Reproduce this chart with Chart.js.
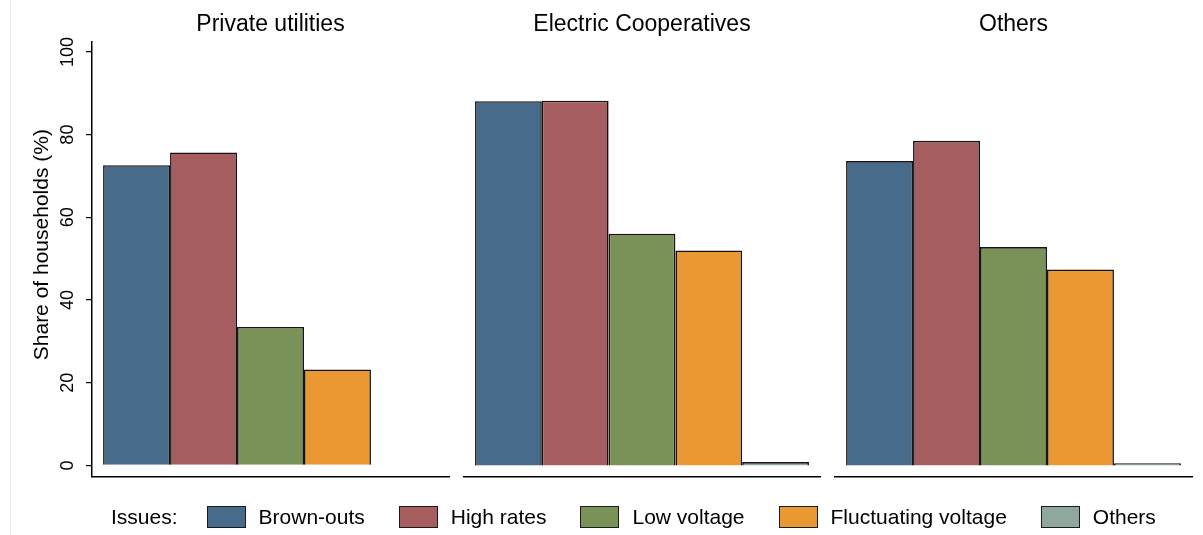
<!DOCTYPE html>
<html>
<head>
<meta charset="utf-8">
<script src="https://cdn.jsdelivr.net/npm/chart.js@4.4.1/dist/chart.umd.min.js"></script>
<style>
  html, body { margin: 0; padding: 0; background: #fff; }
  #wrap { position: relative; width: 1203px; height: 535px; overflow: hidden; font-family: "Liberation Sans", Arial, sans-serif; }
  #wrap canvas { position: absolute; left: 0; top: 0; }
  #edge { position: absolute; left: 10px; top: 0; width: 1px; height: 535px; background: #e9eeee; }
  #legend { position: absolute; left: 111px; top: 505px; display: flex; align-items: center; font-size: 21px; color: #000; white-space: nowrap; }
  #legend .lbl { margin-right: 29px; }
  #legend .box { width: 37px; height: 20px; border: 1.5px solid #1b1b1b; margin-right: 13px; }
  #legend .txt { margin-right: 34px; }
</style>
</head>
<body>
<div id="wrap">
  <div id="edge"></div>
  <canvas id="c1" width="1203" height="535"></canvas>
  <canvas id="c2" width="1203" height="535"></canvas>
  <canvas id="c3" width="1203" height="535"></canvas>
  <div id="legend"></div>
</div>
<script>
// data
const panels = ['Private utilities', 'Electric Cooperatives', 'Others'];
const issues = ['Brown-outs', 'High rates', 'Low voltage', 'Fluctuating voltage', 'Others'];
const colors = ['#486a8b', '#a65d60', '#7a9258', '#e99834', '#8fa79d'];
// one array per panel, values in issue order
const privateUtilities = [72.6, 75.7, 33.5, 23.2, null];
const electricCoops = [88.1, 88.2, 56.0, 52.0, 0.8];
const otherProviders = [73.6, 78.5, 52.8, 47.4, 0.5];
const yTicks = [0, 20, 40, 60, 80, 100];
const yTitle = 'Share of households (%)';

const panelValues = [privateUtilities, electricCoops, otherProviders];
// plot area left/right edges for each panel
const areas = [[92, 449], [464, 820], [835, 1192]];
const W = 1203, H = 535;

const yTitlePlugin = {
  id: 'yTitle',
  afterDraw(chart) {
    const ctx = chart.ctx;
    const y = chart.scales.y;
    const mid = (y.getPixelForValue(0) + y.getPixelForValue(100)) / 2 - 14;
    ctx.save();
    ctx.translate(42, mid);
    ctx.rotate(-Math.PI / 2);
    ctx.font = '21px "Liberation Sans", Arial, sans-serif';
    ctx.fillStyle = '#000';
    ctx.textAlign = 'center';
    ctx.textBaseline = 'middle';
    ctx.fillText(yTitle, 0, 0);
    ctx.restore();
  }
};

panels.forEach((name, p) => {
  const first = p === 0;
  const [left, right] = areas[p];
  new Chart(document.getElementById('c' + (p + 1)), {
    type: 'bar',
    data: {
      labels: [name],
      datasets: issues.map((iss, i) => ({
        label: iss,
        data: [panelValues[p][i]],
        backgroundColor: colors[i],
        borderColor: '#151515',
        borderWidth: 1.6,
        categoryPercentage: 0.938,
        barPercentage: 1
      }))
    },
    options: {
      responsive: false,
      animation: false,
      devicePixelRatio: 1,
      layout: { padding: { left: first ? 0 : left, right: W - right, top: 0, bottom: 0 } },
      plugins: {
        legend: { display: false },
        tooltip: { enabled: false },
        title: {
          display: true,
          text: name,
          fullSize: false,
          color: '#000',
          font: { family: '"Liberation Sans", Arial, sans-serif', size: 23, weight: 'normal', lineHeight: 1.2 },
          padding: { top: 10.5, bottom: 3.9 }
        }
      },
      scales: {
        x: {
          grid: { display: false },
          ticks: { display: false },
          border: { display: true, color: '#000', width: 1.5 },
          afterFit(s) { s.height = H - 477; }
        },
        y: {
          display: first,
          min: -2.8,
          max: 102.4,
          afterBuildTicks(s) { s.ticks = yTicks.map(v => ({ value: v })); },
          afterFit(s) { if (first) s.width = left; },
          grid: { drawOnChartArea: false, drawTicks: true, tickLength: 6, color: '#000', lineWidth: 1.2 },
          border: { display: true, color: '#000', width: 1.5 },
          ticks: {
            color: '#000',
            font: { family: '"Liberation Sans", Arial, sans-serif', size: 18 },
            minRotation: 90,
            maxRotation: 90,
            crossAlign: 'center',
            padding: 3
          }
        }
      }
    },
    plugins: first ? [yTitlePlugin] : []
  });
});

const legend = document.getElementById('legend');
let html = '<span class="lbl">Issues:</span>';
issues.forEach((iss, i) => {
  html += '<span class="box" style="background:' + colors[i] + '"></span><span class="txt">' + iss + '</span>';
});
legend.innerHTML = html;
</script>
</body>
</html>
